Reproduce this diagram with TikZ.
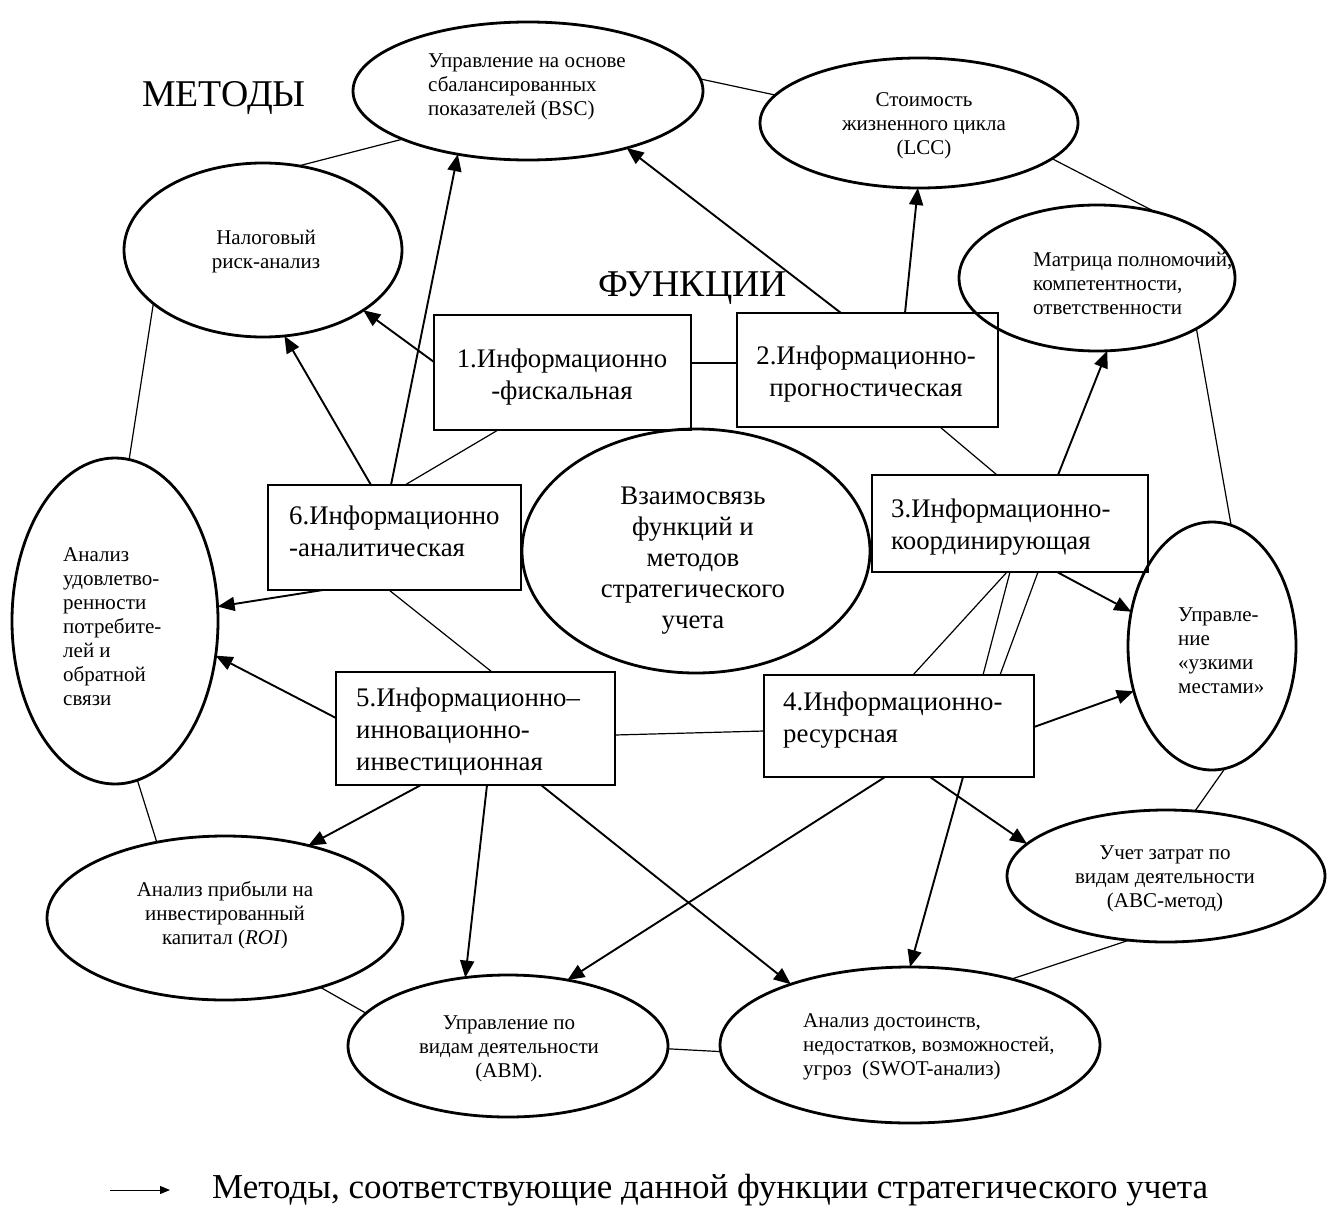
\documentclass[tikz,border=0pt]{standalone}
\usepackage{fontspec}
\setmainfont{Liberation Serif}
\usetikzlibrary{shapes.geometric,arrows.meta}

\begin{document}
\begin{tikzpicture}[x=1pt,y=-1pt,
  method/.style={draw, ellipse, line width=2.8pt, inner sep=0pt, outer sep=0pt},
  func/.style={draw, rectangle, line width=2.8pt, inner sep=0pt, outer sep=0pt},
  small/.style={font=\fontsize{21}{24}\selectfont, inner sep=0pt},
  big/.style={font=\fontsize{26.8}{32}\selectfont, inner sep=0pt},
  title/.style={font=\fontsize{37.8}{40}\selectfont, inner sep=0pt},
  link/.style={line width=1.2pt},
  uses/.style={line width=1.9pt, -{Triangle[length=17pt,width=14pt]}},
]
\useasboundingbox (0,0) rectangle (1338,1207);

% ---- methods (ellipses) ----
\node[method, minimum width=350pt, minimum height=138pt] (bsc)  at (528,91)   {};
\node[method, minimum width=318pt, minimum height=130pt] (lcc)  at (919,123)  {};
\node[method, minimum width=278pt, minimum height=174pt] (tax)  at (263,250)  {};
\node[method, minimum width=276pt, minimum height=146pt] (mat)  at (1097,278) {};
\node[method, minimum width=348pt, minimum height=244pt] (cen)  at (696,551)  {};
\node[method, minimum width=206pt, minimum height=326pt] (sat)  at (115,621)  {};
\node[method, minimum width=168pt, minimum height=248pt] (nar)  at (1212,646) {};
\node[method, minimum width=318pt, minimum height=132pt] (abc)  at (1166,876) {};
\node[method, minimum width=356pt, minimum height=164pt] (roi)  at (225,918)  {};
\node[method, minimum width=320pt, minimum height=142pt] (abm)  at (508,1046) {};
\node[method, minimum width=380pt, minimum height=156pt] (swot) at (910,1045) {};

% ---- functions (boxes) ----
\node[func, minimum width=257pt, minimum height=115pt] (b1) at (562.5,372.5) {};
\node[func, minimum width=261pt, minimum height=114pt] (b2) at (867.5,370)   {};
\node[func, minimum width=276pt, minimum height=97pt]  (b3) at (1010,523.5)  {};
\node[func, minimum width=270pt, minimum height=102pt] (b4) at (899,726)     {};
\node[func, minimum width=279pt, minimum height=113pt] (b5) at (475.5,728.5) {};
\node[func, minimum width=253pt, minimum height=105pt] (b6) at (394.5,537.5) {};

% ---- headings ----
\node[title] (hm) at (224,98)  {МЕТОДЫ};
\node[title] (hf) at (693,288) {ФУНКЦИИ};

% ---- texts of the methods ----
\node[small, align=left, anchor=west] (tbsc) at (428,87) {Управление на основе\\сбалансированных\\показателей (BSC)};
\node[small, align=center] (tlcc) at (924,126) {Стоимость\\жизненного цикла\\(LCC)};
\node[small, align=center] (ttax) at (266,252) {Налоговый\\риск-анализ};
\node[small, align=left, anchor=west] (tmat) at (1033,283) {Матрица полномочий,\\компетентности,\\ответственности};
\node[font=\fontsize{26.8}{31}\selectfont, inner sep=0pt, align=center] (tcen) at (693,561) {Взаимосвязь\\функций и\\методов\\стратегического\\учета};
\node[small, align=left, anchor=west] (tsat) at (63,627) {Анализ\\удовлетво-\\ренности\\потребите-\\лей и\\обратной\\связи};
\node[small, align=left, anchor=west] (tnar) at (1178,651) {Управле-\\ние\\«узкими\\местами»};
\node[small, align=center] (tabc) at (1165,879) {Учет затрат по\\видам деятельности\\(ABC-метод)};
\node[small, align=center] (troi) at (225,915) {Анализ прибыли на\\инвестированный\\капитал (\textit{ROI})};
\node[small, align=center] (tabm) at (509,1049) {Управление по\\видам деятельности\\(ABM).};
\node[small, align=left, anchor=west] (tswot) at (803,1047) {Анализ достоинств,\\недостатков, возможностей,\\угроз~~(SWOT-анализ)};

% ---- texts of the functions ----
\node[big, align=center] (t1) at (562,377) {1.Информационно\\-фискальная};
\node[big, align=center] (t2) at (866,374) {2.Информационно-\\прогностическая};
\node[big, align=left, anchor=west] (t3) at (891,527) {3.Информационно-\\координирующая};
\node[big, align=left, anchor=west] (t4) at (783,720) {4.Информационно-\\ресурсная};
\node[big, align=left, anchor=west] (t5) at (356,732) {5.Информационно–\\инновационно-\\инвестиционная};
\node[big, align=left, anchor=west] (t6) at (289,531) {6.Информационно\\-аналитическая};

% ---- plain links ----
\draw[link] (bsc.4.3) -- (lcc.169);
\draw[link] (bsc.-159.8) -- (tax.67.6);
\draw[link] (lcc.-15.5) -- (mat.49.5);
\draw[link] (mat.-27.9) -- (nar.81.3);
\draw[link] (tax.-154.3) -- (sat.85.8);
\draw[link] (sat.-82.9) -- (roi.132.4);
\draw[link] (roi.-36.4) -- (abm.167.9);
\draw[link] (abm.-1.8) -- (swot.-178.5);
\draw[link] (swot.33.1) -- (abc.-120);
\draw[link] (abc.66.9) -- (nar.-84.1);
\draw[link] ([yshift=9.5pt]b1.east) -- ([yshift=7pt]b2.west);
\draw[link] ([xshift=64pt]b1.south west) -- ([xshift=137pt]b6.north west);
\draw[link] ([xshift=203pt]b2.south west) -- ([xshift=125pt]b3.north west);
\draw[link] ([xshift=121pt]b6.south west) -- ([xshift=156pt]b5.north west);
\draw[link] ([yshift=-6.5pt]b5.east) -- ([yshift=-5pt]b4.west);
\draw[link] ([xshift=135pt]b3.south west) -- ([xshift=149pt]b4.north west);
\draw[link] ([xshift=138pt]b3.south west) -- ([xshift=219pt]b4.north west);
\draw[link] ([xshift=166pt]b3.south west) -- ([xshift=236pt]b4.north west);

% ---- function -> method ----
\draw[uses] ([yshift=10.5pt]b1.west) -- (tax.-31);
\draw[uses] ([xshift=103pt]b6.north west) -- (tax.-76);
\draw[uses] ([xshift=123pt]b6.north west) -- (bsc.-138.9);
\draw[uses] ([xshift=104pt]b2.north west) -- (bsc.-30.5);
\draw[uses] ([xshift=168pt]b2.north west) -- (lcc.-91);
\draw[uses] ([xshift=186pt]b3.north west) -- (mat.-82);
\draw[uses] ([xshift=185pt]b3.south west) -- (nar.157.5);
\draw[uses] ([yshift=-1pt]b4.east) -- (nar.-150.8);
\draw[uses] ([xshift=166pt]b4.south west) -- (abc.167.4);
\draw[uses] ([xshift=199pt]b4.south west) -- (swot.90);
\draw[uses] ([xshift=121pt]b4.south west) -- (abm.48);
\draw[uses] ([xshift=151pt]b5.south west) -- (abm.122.4);
\draw[uses] ([xshift=205pt]b5.south west) -- (swot.153);
\draw[uses] ([xshift=85pt]b5.south west) -- (roi.41.6);
\draw[uses] ([yshift=10.5pt]b5.west) -- (sat.-19.5);
\draw[uses] ([xshift=55pt]b6.south west) -- (sat.8.7);

% ---- legend ----
\coordinate (ka) at (110,1190);
\coordinate (kb) at (170,1190);
\draw[line width=1pt, -{Triangle[length=10pt,width=8pt]}] (ka) -- (kb);
\node[font=\fontsize{35}{38}\selectfont, inner sep=0pt, anchor=west] (leg) at (212,1190) {Методы, соответствующие данной функции стратегического учета};
\end{tikzpicture}
\end{document}
